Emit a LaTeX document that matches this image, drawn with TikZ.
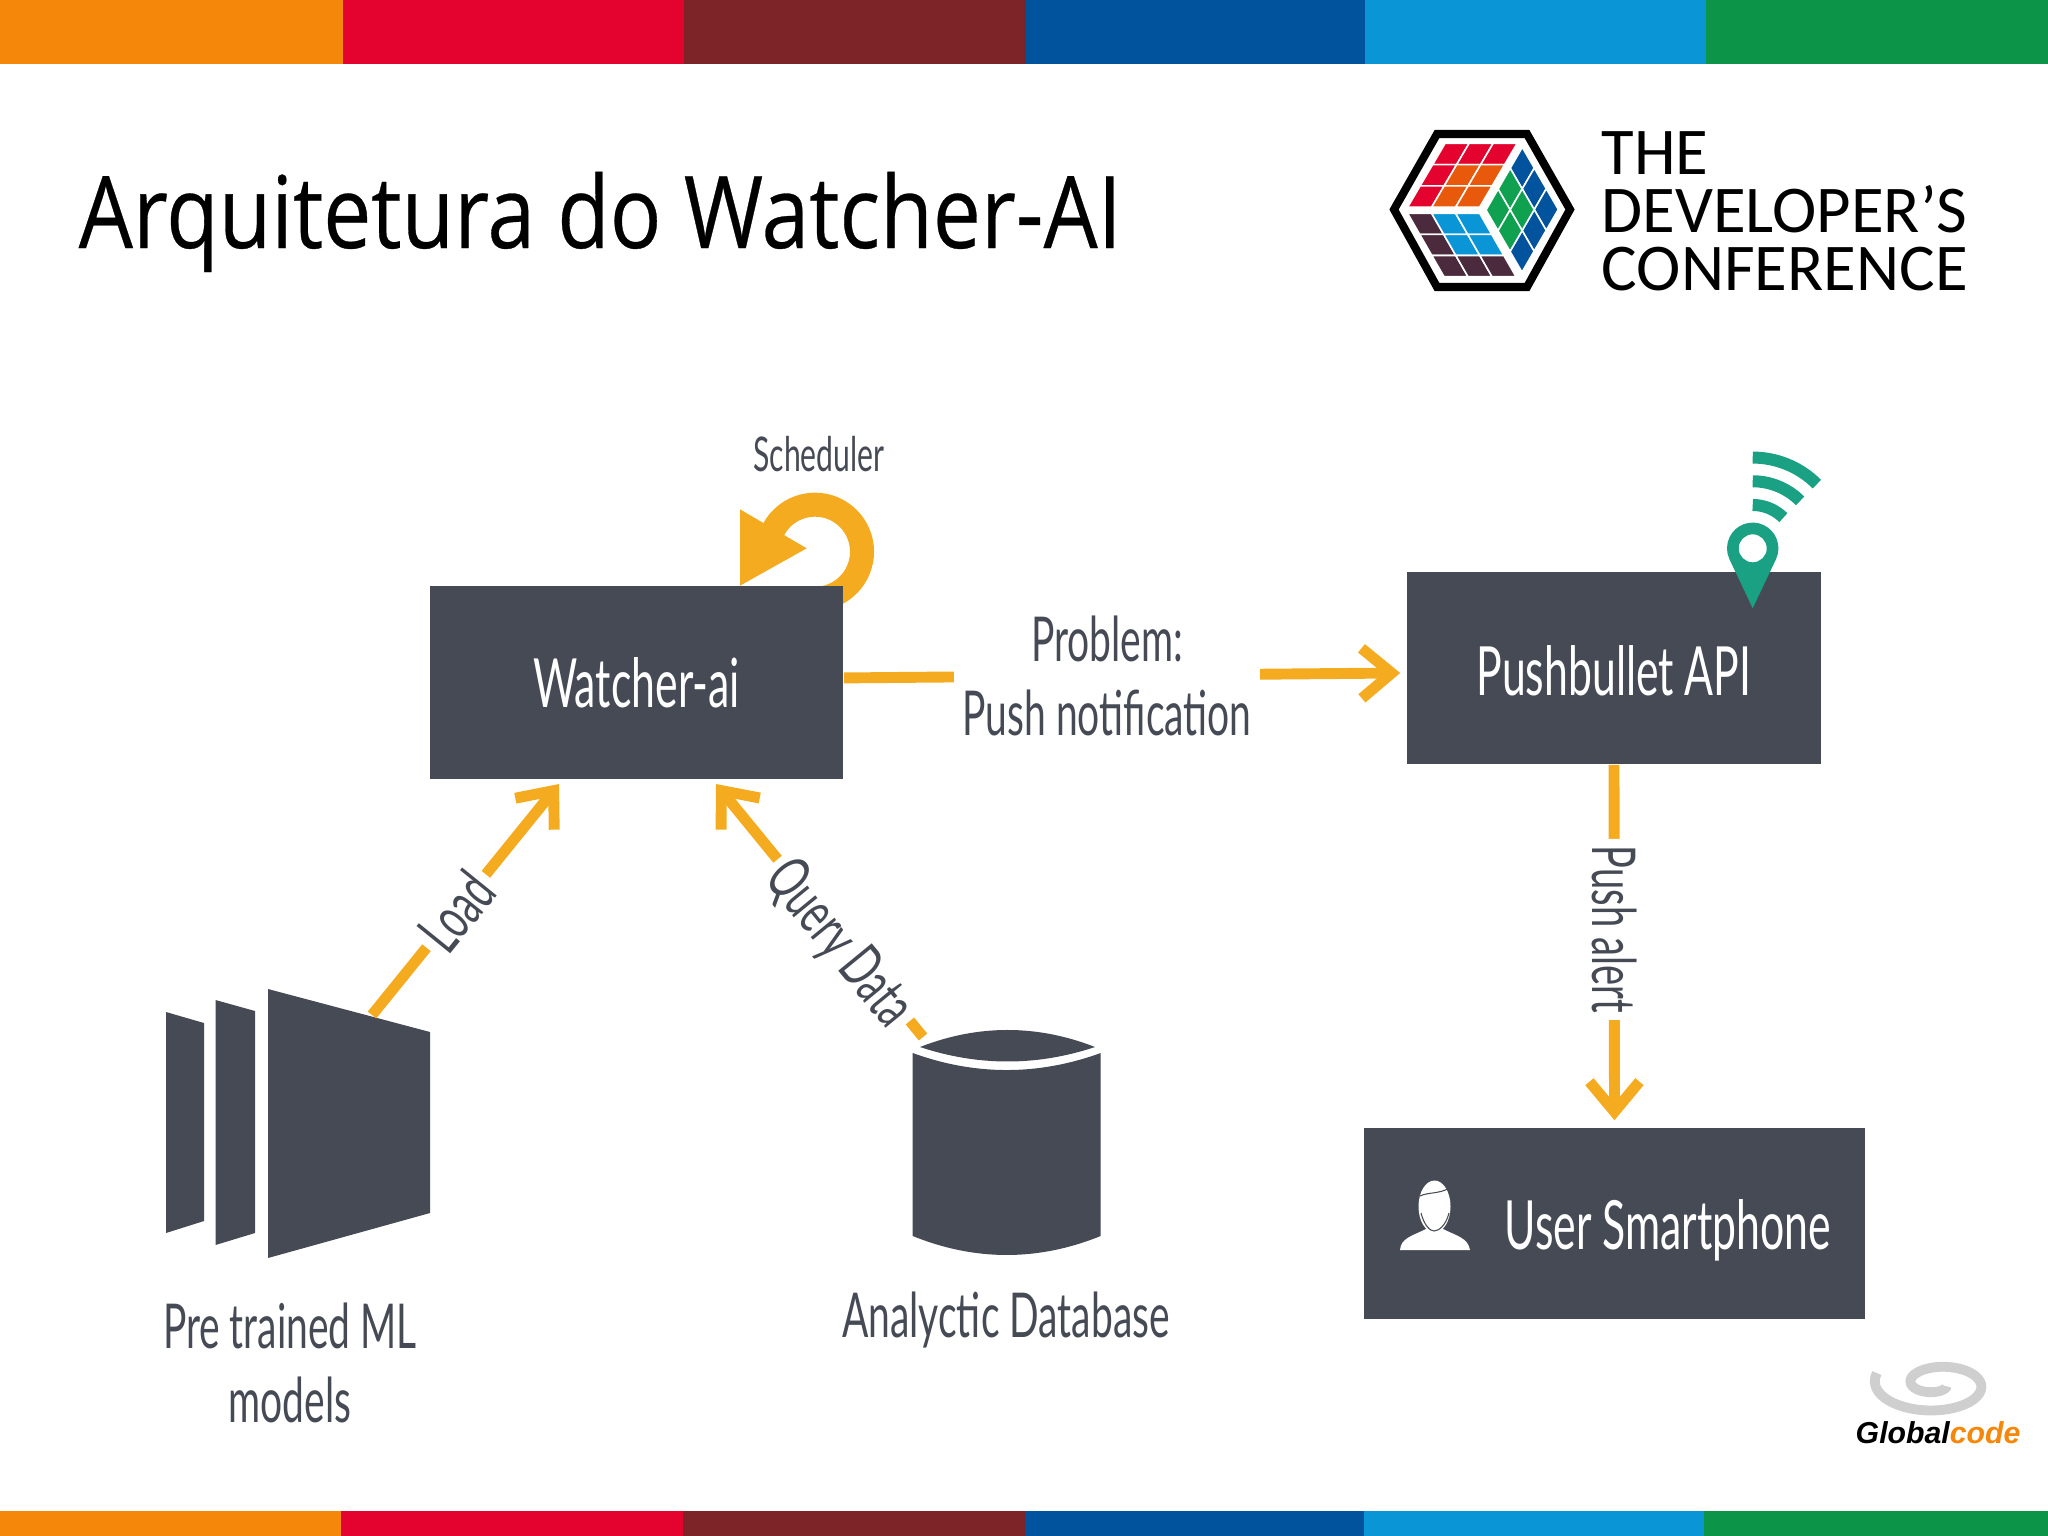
\documentclass[tikz,border=0pt]{standalone}
\usepackage{fontspec}
\usepackage{xcolor}
\usepackage{tikz}
\usetikzlibrary{positioning, arrows.meta, calc}

\setmainfont{Liberation Sans}
\newfontfamily\titlefont[FakeStretch=0.855,FakeBold=0.3]{Open Sans}
\newfontfamily\labelfont[FakeStretch=0.63]{Lato}
\newfontfamily\brandfont[FakeStretch=1.0]{Carlito}

\definecolor{barorange}{HTML}{F5870A}
\definecolor{barred}{HTML}{E4032E}
\definecolor{barmaroon}{HTML}{7C2428}
\definecolor{barblue}{HTML}{00539C}
\definecolor{barsky}{HTML}{0A96D6}
\definecolor{bargreen}{HTML}{0C9448}
\definecolor{cubeorange}{HTML}{E8590C}
\definecolor{cubedark}{HTML}{4A2A3C}
\definecolor{cubegreen}{HTML}{0FA050}
\definecolor{slate}{HTML}{454A54}
\definecolor{flowyellow}{HTML}{F5AB1F}
\definecolor{pingreen}{HTML}{1AA083}
\definecolor{swirlgrey}{HTML}{CFCFCF}

\tikzset{
  box/.style={fill=slate, text=white, font=\labelfont\fontsize{19.3}{23}\selectfont, inner sep=0pt},
  flow/.style={line width=3.1pt, flowyellow, -{Straight Barb[length=.3cm,width=.5cm,line width=3.1pt]}},
  flowlabel/.style={fill=white, text=slate, sloped, font=\labelfont\fontsize{17.2}{21}\selectfont, inner sep=2pt},
  caption/.style={text=slate, font=\labelfont\fontsize{17.6}{21}\selectfont, align=center},
  cubecell/.style={draw=white, line width=.45pt},
  brand/.style={anchor=base west, inner sep=0pt, font=\brandfont\fontsize{19}{23}\selectfont},
}

\begin{document}
\begin{tikzpicture}[x=0.01cm, y=-0.01cm]
  \useasboundingbox (0,0) rectangle (2048,1536);

  % colour bars
  \foreach \xa/\xb/\col in {0/343/barorange, 343/684/barred, 684/1026/barmaroon, 1026/1365/barblue, 1365/1706/barsky, 1706/2048/bargreen}
    \fill[\col] (\xa,0) rectangle (\xb,64);
  \foreach \xa/\xb/\col in {0/341/barorange, 341/683/barred, 683/1025/barmaroon, 1025/1364/barblue, 1364/1704/barsky, 1704/2048/bargreen}
    \fill[\col] (\xa,1511) rectangle (\xb,1536);

  \node[anchor=base west, inner sep=0pt, font=\titlefont\fontsize{28.5}{34}\selectfont] (title) at (78,248) {Arquitetura do Watcher-AI};

  % cube logo
  \draw[line width=2.3pt, miter limit=4] (1394,209.5) -- (1437,134) -- (1527,134) -- (1570,209.5) -- (1527,287) -- (1437,287) -- cycle;
  \begin{scope}[shift={(1445.1,143.3)}, x={(.24cm,0cm)}, y={(-.125cm,-.213cm)}]
    \foreach \c/\r/\col in {0/0/barred, 1/0/barred, 2/0/barred, 0/1/barred, 1/1/cubeorange, 2/1/cubeorange, 0/2/barred, 1/2/cubeorange, 2/2/cubeorange}
      \fill[cubecell, fill=\col] (\c,\r) -- ++(1,0) -- ++(0,1) -- ++(-1,0) -- cycle;
  \end{scope}
  \begin{scope}[shift={(1407.6,213.3)}, x={(.24cm,0cm)}, y={(.121cm,-.211cm)}]
    \foreach \c/\r/\col in {0/0/cubedark, 1/0/barsky, 2/0/barsky, 0/1/cubedark, 1/1/barsky, 2/1/barsky, 0/2/cubedark, 1/2/cubedark, 2/2/cubedark}
      \fill[cubecell, fill=\col] (\c,\r) -- ++(1,0) -- ++(0,1) -- ++(-1,0) -- cycle;
  \end{scope}
  \begin{scope}[shift={(1522.3,147.3)}, x={(.12cm,-.207cm)}, y={(-.121cm,-.209cm)}]
    \foreach \c/\r/\col in {0/0/barblue, 1/0/barblue, 2/0/barblue, 2/1/barblue, 2/2/barblue, 0/1/cubegreen, 1/1/cubegreen, 0/2/cubegreen, 1/2/cubegreen}
      \fill[cubecell, fill=\col] (\c,\r) -- ++(1,0) -- ++(0,1) -- ++(-1,0) -- cycle;
  \end{scope}
  \node[brand] (brandA) at (1601,174) {THE};
  \node[brand] (brandB) at (1601,232) {DEVELOPER’S};
  \node[brand] (brandC) at (1601,290) {CONFERENCE};

  % scheduler loop, goes behind the box
  \coordinate (loop) at (815,551.7);
  \draw[flowyellow, line width=.24cm] ($(loop)+(-90:.47cm)$) arc[start angle=-90, end angle=170, radius=.47cm];
  \fill[flowyellow] (740,509.3) -- (806.7,548.3) -- (740,585.7) -- cycle;
  \node[text=slate, font=\labelfont\fontsize{13.6}{16}\selectfont] (scheduler) at (819,454.5) {Scheduler};

  \node[box, minimum width=4.13cm, minimum height=1.93cm] (watcher) at (636.5,682.5) {Watcher-ai};
  \node[box, minimum width=4.14cm, minimum height=1.92cm, text height=.55cm, text depth=0cm] (pushbullet) at (1614,668) {Pushbullet API};
  \node[box, minimum width=5.01cm, minimum height=1.91cm] (smartphone) at (1614.5,1223.5) {};
  \node[text=white, font=\labelfont\fontsize{19.3}{23}\selectfont, inner sep=0pt] (smartphonelabel) at (1668,1230) {User Smartphone};

  % wifi pin
  \coordinate (pin) at (1752.7,548.3);
  \coordinate (pintip) at (1752.7,608.3);
  \fill[pingreen, even odd rule] (pintip) -- ($(pin)+(-25.4:.257cm)$) arc[start angle=-25.4, end angle=205.4, radius=.257cm] -- cycle (pin) circle[radius=.14cm];
  \foreach \rad in {.433, .67, .907}
    \draw[pingreen, line width=.12cm] ($(pin)+(90:\rad cm)$) arc[start angle=90, end angle=45, radius=\rad cm];

  % person
  \fill[white] (1400,1250) .. controls (1401,1238) and (1412,1236) .. (1426,1229) -- (1443,1229) .. controls (1457,1236) and (1468,1238) .. (1470,1250) -- cycle;
  \fill[white] (1434.5,1206.5) ellipse[x radius=.16cm, y radius=.26cm];
  \draw[slate, line width=.3pt] (1420,1196) .. controls (1428,1192) and (1440,1194) .. (1449,1188);
  \draw[slate, line width=.3pt] (1421,1213) .. controls (1424,1225) and (1430,1231) .. (1434,1231) .. controls (1439,1231) and (1446,1225) .. (1449,1213);

  % ML models
  \fill[slate] (166,1012) -- (204,1023) -- (204,1221) -- (166,1233) -- cycle;
  \fill[slate] (215.5,1000) -- (255,1011) -- (255,1233) -- (215.5,1245) -- cycle;
  \fill[slate] (268,989) -- (430,1032) -- (430,1213) -- (268,1258) -- cycle;
  \node[caption] (models) at (290,1363) {Pre trained ML\\models};

  % database
  \fill[slate] (912.7,1053) .. controls (975.4,1075.7) and (1038,1075.7) .. (1100.7,1053) -- (1100.7,1236) .. controls (1038,1261.3) and (975.4,1261.3) .. (912.7,1236) -- cycle;
  \fill[slate] (920,1047) .. controls (978,1024.3) and (1037,1024.3) .. (1095,1047) .. controls (1037,1066.3) and (978,1066.3) .. (920,1047) -- cycle;
  \node[caption] (database) at (1006,1320) {Analyctic Database};

  % connectors
  \coordinate (loadstart) at (372,1015);
  \coordinate (loadend) at (559,784);
  \coordinate (querystart) at (923,1037);
  \coordinate (queryend) at (716,784);
  \draw[flow] (loadstart) -- node[flowlabel, pos=.45] {Load} (loadend);
  \draw[flow] (querystart) -- node[flowlabel, pos=.383, text height=17pt, text depth=3.5pt] {Query Data} (queryend);
  \draw[flow, shorten >=1.7pt] ([yshift=1.3pt]watcher.east) -- node[flowlabel, sloped=false, pos=.468, align=center, font=\labelfont\fontsize{17.6}{21}\selectfont, inner sep=2.4pt] {Problem:\\Push notification} ([yshift=-1.4pt]pushbullet.west);
  \draw[flow, shorten >=2pt] (pushbullet.south) -- node[flowlabel, pos=.454] {Push alert} (smartphone.north);

  % globalcode mark
  \draw[swirlgrey, line width=2.8pt] plot[domain=30:560, samples=70, smooth] ({1937+(8+\x/560*56)*cos(\x)},{1384+(3+\x/560*29)*sin(\x)});
  \node[anchor=base west, inner sep=0pt, font=\bfseries\itshape\fontsize{8.6}{10}\selectfont] (globalcode) at (1855,1443) {Global\textcolor{barorange}{code}};
\end{tikzpicture}
\end{document}
